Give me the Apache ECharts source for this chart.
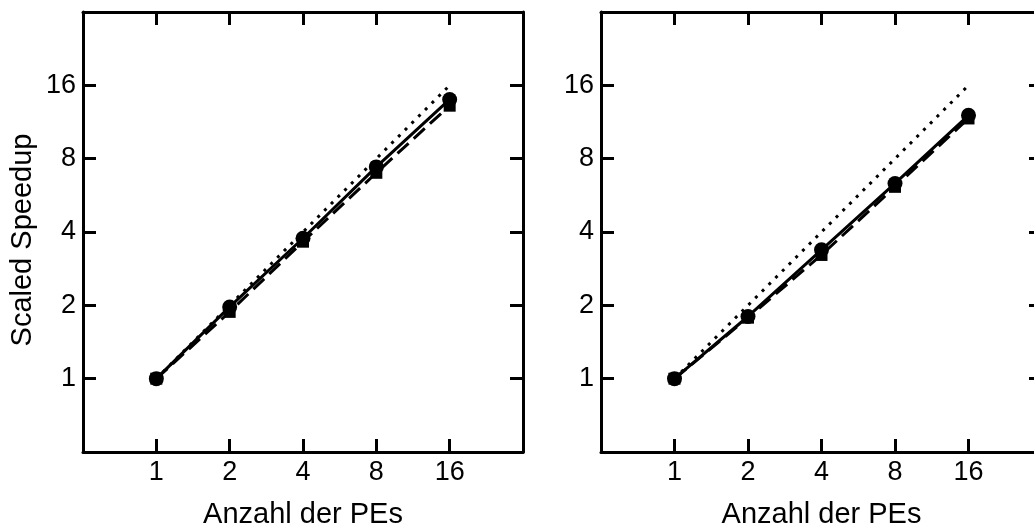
<!DOCTYPE html>
<html>
<head>
<meta charset="utf-8">
<script src="https://cdn.jsdelivr.net/npm/echarts@6/dist/echarts.min.js"></script>
<style>
  html, body { margin: 0; padding: 0; background: #fff; }
  #main { width: 1034px; height: 527px; }
</style>
</head>
<body>
<div id="main"></div>
<script>
const pes = [1, 2, 4, 8, 16]
const tickLabels = [1, 2, 4, 8, 16]
const ideal = [1, 2, 4, 8, 16]
// left panel
const leftCircle = [1, 1.97, 3.77, 7.4, 14.0]
const leftSquare = [1, 1.88, 3.65, 7.0, 13.2]
// right panel
const rightCircle = [1, 1.80, 3.38, 6.33, 12.05]
const rightSquare = [1, 1.78, 3.22, 6.13, 11.7]

const font = 'Liberation Sans, Arial, sans-serif'
const pairs = (ys) => pes.map((x, i) => [x, ys[i]])
const fmt = (v) => {
  const r = Math.round(v)
  return tickLabels.includes(r) && Math.abs(v - r) < 0.01 ? String(r) : ''
}

const lineAxis = {
  axisLine: { show: true, lineStyle: { color: '#000', width: 3 } },
  axisTick: { show: true, inside: true, length: 13, lineStyle: { color: '#000', width: 3 } },
  splitLine: { show: false }
}

const makeX = (gridIndex, position, withLabel) => ({
  type: 'log',
  logBase: 2,
  min: 0.5,
  max: 32,
  splitNumber: 6,
  gridIndex: gridIndex,
  position: position,
  ...lineAxis,
  axisLabel: {
    show: withLabel,
    formatter: fmt,
    color: '#000',
    fontFamily: font,
    fontSize: 27,
    margin: 7
  },
  name: withLabel ? 'Anzahl der PEs' : '',
  nameLocation: 'middle',
  nameGap: 48,
  nameTextStyle: { color: '#000', fontFamily: font, fontSize: 29 }
})

const makeY = (gridIndex, position, withLabel, title) => ({
  type: 'log',
  logBase: 2,
  min: 0.5,
  max: 32,
  splitNumber: 6,
  gridIndex: gridIndex,
  position: position,
  ...lineAxis,
  axisLabel: {
    show: withLabel,
    formatter: fmt,
    color: '#000',
    fontFamily: font,
    fontSize: 27,
    margin: 7
  },
  name: title,
  nameLocation: 'middle',
  nameGap: 46,
  nameTextStyle: { color: '#000', fontFamily: font, fontSize: 29, padding: [0, 0, 0, -16] }
})

const makeSeries = (xi, yi, circle, square) => [
  {
    type: 'line',
    xAxisIndex: xi,
    yAxisIndex: yi,
    data: pairs(ideal),
    symbol: 'none',
    lineStyle: { color: '#000', width: 3, type: [3, 6.5] }
  },
  {
    type: 'line',
    xAxisIndex: xi,
    yAxisIndex: yi,
    data: pairs(square),
    symbol: 'rect',
    symbolSize: 12,
    itemStyle: { color: '#000' },
    lineStyle: { color: '#000', width: 3, type: [15, 7] }
  },
  {
    type: 'line',
    xAxisIndex: xi,
    yAxisIndex: yi,
    data: pairs(circle),
    symbol: 'circle',
    symbolSize: 15,
    itemStyle: { color: '#000' },
    lineStyle: { color: '#000', width: 3, type: 'solid' }
  }
]

const chart = echarts.init(document.getElementById('main'))
chart.setOption({
  animation: false,
  backgroundColor: '#fff',
  grid: [
    { left: 83, top: 12, width: 440, height: 440, outerBoundsMode: 'none', containLabel: false },
    { left: 601, top: 12, width: 441, height: 440, outerBoundsMode: 'none', containLabel: false }
  ],
  xAxis: [
    makeX(0, 'bottom', true),
    makeX(0, 'top', false),
    makeX(1, 'bottom', true),
    makeX(1, 'top', false)
  ],
  yAxis: [
    makeY(0, 'left', true, 'Scaled Speedup'),
    makeY(0, 'right', false, ''),
    makeY(1, 'left', true, ''),
    makeY(1, 'right', false, '')
  ],
  series: [
    ...makeSeries(0, 0, leftCircle, leftSquare),
    ...makeSeries(2, 2, rightCircle, rightSquare)
  ]
})
</script>
</body>
</html>
